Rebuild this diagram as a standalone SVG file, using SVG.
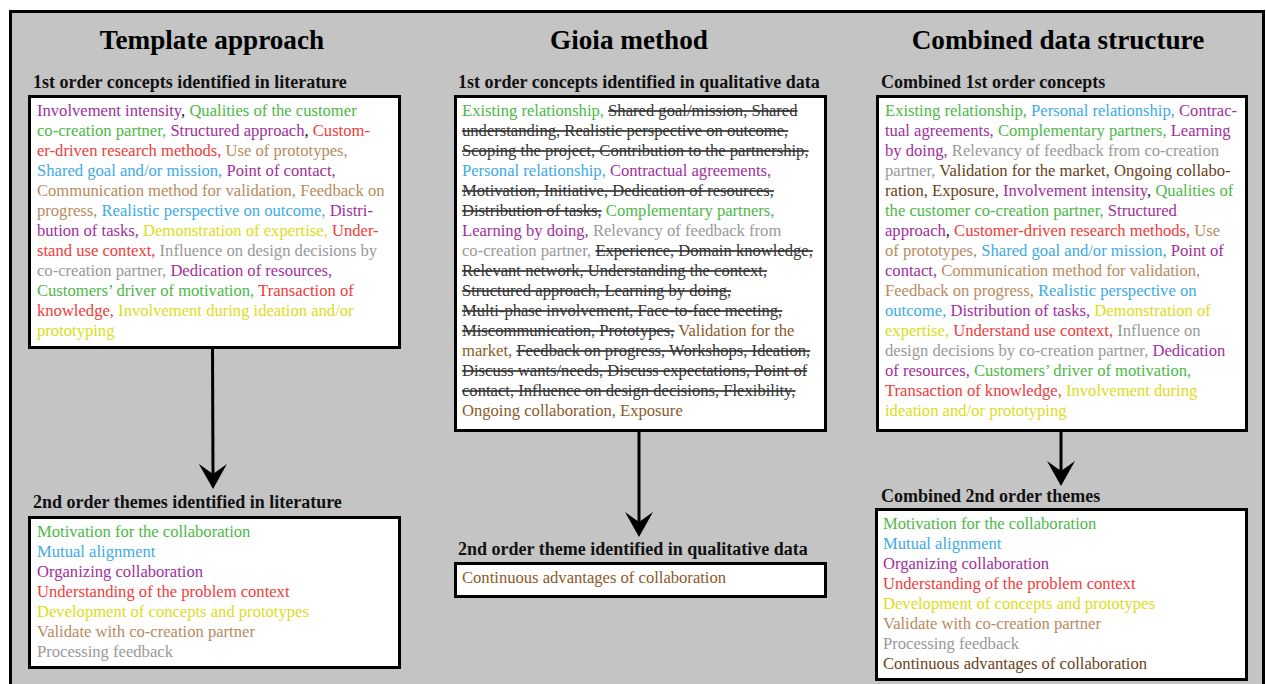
<svg xmlns="http://www.w3.org/2000/svg" width="1266" height="684" viewBox="0 0 1266 684">
<style>
text{font-family:"Liberation Serif","Times New Roman",serif}
.title{font-size:27.2px;font-weight:bold;fill:#000;text-anchor:middle}
.sub{font-size:18px;font-weight:bold;fill:#111}
.body{font-size:16.6px}
.box{fill:#fff;stroke:#000;stroke-width:3}
.k{fill:#111}
.pu{fill:#a0309b}
.gr{fill:#4db848}
.rd{fill:#f03b3b}
.tn{fill:#b98a5e}
.bl{fill:#3eaae6}
.ye{fill:#dcdc1a}
.gy{fill:#999}
.br{fill:#8a5a2a}
.db{fill:#6a4219}
.st{fill:#333;text-decoration:line-through}
.conn{stroke:#000;stroke-width:3;fill:none}
</style>
<defs>
<marker id="ah" viewBox="0 0 25 28" markerWidth="25" markerHeight="28" refX="12" refY="14" orient="auto" markerUnits="userSpaceOnUse">
<path d="M0,0 L10,14 L0,28 L25,14 Z" fill="#000"/>
</marker>
</defs>
<rect x="0" y="0" width="1266" height="684" fill="#fff"/>
<rect x="10.5" y="11.5" width="1253" height="700" fill="#c4c4c4" stroke="#000" stroke-width="3"/>

<g id="titles">
<text class="title" x="212" y="49">Template approach</text>
<text class="title" x="629" y="49">Gioia method</text>
<text class="title" x="1058" y="49">Combined data structure</text>
</g>

<g id="connectors">
<line class="conn" x1="212.5" y1="348" x2="213" y2="476" marker-end="url(#ah)"/>
<line class="conn" x1="639" y1="431" x2="639" y2="524" marker-end="url(#ah)"/>
<line class="conn" x1="1061" y1="431" x2="1061" y2="473" marker-end="url(#ah)"/>
</g>

<g id="template-1st">
<text class="sub" x="33" y="88">1st order concepts identified in literature</text>
<rect class="box" x="29.5" y="96.5" width="370" height="251"/>
<text class="body" x="37" y="116"><tspan class="pu">Involvement intensity</tspan><tspan class="k">, </tspan><tspan class="gr">Qualities of the customer</tspan></text>
<text class="body" x="37" y="136"><tspan class="gr">co-creation partner, </tspan><tspan class="pu">Structured approach</tspan><tspan class="k">, </tspan><tspan class="rd">Custom-</tspan></text>
<text class="body" x="37" y="156"><tspan class="rd">er-driven research methods, </tspan><tspan class="tn">Use of prototypes,</tspan></text>
<text class="body" x="37" y="176"><tspan class="bl">Shared goal and/or mission, </tspan><tspan class="pu">Point of contact,</tspan></text>
<text class="body" x="37" y="196"><tspan class="tn">Communication method for validation, Feedback on</tspan></text>
<text class="body" x="37" y="216"><tspan class="tn">progress, </tspan><tspan class="bl">Realistic perspective on outcome, </tspan><tspan class="pu">Distri-</tspan></text>
<text class="body" x="37" y="236"><tspan class="pu">bution of tasks, </tspan><tspan class="ye">Demonstration of expertise, </tspan><tspan class="rd">Under-</tspan></text>
<text class="body" x="37" y="256"><tspan class="rd">stand use context, </tspan><tspan class="gy">Influence on design decisions by</tspan></text>
<text class="body" x="37" y="276"><tspan class="gy">co-creation partner, </tspan><tspan class="pu">Dedication of resources,</tspan></text>
<text class="body" x="37" y="296"><tspan class="gr">Customers’ driver of motivation, </tspan><tspan class="rd">Transaction of</tspan></text>
<text class="body" x="37" y="316"><tspan class="rd">knowledge, </tspan><tspan class="ye">Involvement during ideation and/or</tspan></text>
<text class="body" x="37" y="336"><tspan class="ye">prototyping</tspan></text>
</g>

<g id="template-2nd">
<text class="sub" x="33" y="508">2nd order themes identified in literature</text>
<rect class="box" x="29.5" y="517.5" width="370" height="150"/>
<text class="body gr" x="37" y="537">Motivation for the collaboration</text>
<text class="body bl" x="37" y="557">Mutual alignment</text>
<text class="body pu" x="37" y="577">Organizing collaboration</text>
<text class="body rd" x="37" y="597">Understanding of the problem context</text>
<text class="body ye" x="37" y="617">Development of concepts and prototypes</text>
<text class="body tn" x="37" y="637">Validate with co-creation partner</text>
<text class="body gy" x="37" y="657">Processing feedback</text>
</g>

<g id="gioia-1st">
<text class="sub" x="458" y="88">1st order concepts identified in qualitative data</text>
<rect class="box" x="455.5" y="96.5" width="370" height="334"/>
<text class="body" x="462" y="116"><tspan class="gr">Existing relationship, </tspan><tspan class="st">Shared goal/mission, Shared</tspan></text>
<text class="body" x="462" y="136"><tspan class="st">understanding, Realistic perspective on outcome,</tspan></text>
<text class="body" x="462" y="156"><tspan class="st">Scoping the project, Contribution to the partnership,</tspan></text>
<text class="body" x="462" y="176"><tspan class="bl">Personal relationship, </tspan><tspan class="pu">Contractual agreements,</tspan></text>
<text class="body" x="462" y="196"><tspan class="st">Motivation, Initiative, Dedication of resources,</tspan></text>
<text class="body" x="462" y="216"><tspan class="st">Distribution of tasks,</tspan><tspan class="k"> </tspan><tspan class="gr">Complementary partners,</tspan></text>
<text class="body" x="462" y="236"><tspan class="pu">Learning by doing, </tspan><tspan class="gy">Relevancy of feedback from</tspan></text>
<text class="body" x="462" y="256"><tspan class="gy">co-creation partner, </tspan><tspan class="st">Experience, Domain knowledge,</tspan></text>
<text class="body" x="462" y="276"><tspan class="st">Relevant network, Understanding the context,</tspan></text>
<text class="body" x="462" y="296"><tspan class="st">Structured approach, Learning by doing,</tspan></text>
<text class="body" x="462" y="316"><tspan class="st">Multi-phase involvement, Face-to-face meeting,</tspan></text>
<text class="body" x="462" y="336"><tspan class="st">Miscommunication, Prototypes,</tspan><tspan class="k"> </tspan><tspan class="br">Validation for the</tspan></text>
<text class="body" x="462" y="356"><tspan class="br">market, </tspan><tspan class="st">Feedback on progress, Workshops, Ideation,</tspan></text>
<text class="body" x="462" y="376"><tspan class="st">Discuss wants/needs, Discuss expectations, Point of</tspan></text>
<text class="body" x="462" y="396"><tspan class="st">contact, Influence on design decisions, Flexibility,</tspan></text>
<text class="body" x="462" y="416"><tspan class="br">Ongoing collaboration, Exposure</tspan></text>
</g>

<g id="gioia-2nd">
<text class="sub" x="458" y="555">2nd order theme identified in qualitative data</text>
<rect class="box" x="455.5" y="563.5" width="370" height="33"/>
<text class="body br" x="462" y="583">Continuous advantages of collaboration</text>
</g>

<g id="combined-1st">
<text class="sub" x="881" y="88">Combined 1st order concepts</text>
<rect class="box" x="877.5" y="96.5" width="369" height="334"/>
<text class="body" x="885" y="116"><tspan class="gr">Existing relationship, </tspan><tspan class="bl">Personal relationship, </tspan><tspan class="pu">Contrac-</tspan></text>
<text class="body" x="885" y="136"><tspan class="pu">tual agreements, </tspan><tspan class="gr">Complementary partners, </tspan><tspan class="pu">Learning</tspan></text>
<text class="body" x="885" y="156"><tspan class="pu">by doing, </tspan><tspan class="gy">Relevancy of feedback from co-creation</tspan></text>
<text class="body" x="885" y="176"><tspan class="gy">partner, </tspan><tspan class="db">Validation for the market, Ongoing collabo-</tspan></text>
<text class="body" x="885" y="196"><tspan class="db">ration, Exposure, </tspan><tspan class="pu">Involvement intensity</tspan><tspan class="k">, </tspan><tspan class="gr">Qualities of</tspan></text>
<text class="body" x="885" y="216"><tspan class="gr">the customer co-creation partner, </tspan><tspan class="pu">Structured</tspan></text>
<text class="body" x="885" y="236"><tspan class="pu">approach</tspan><tspan class="k">, </tspan><tspan class="rd">Customer-driven research methods, </tspan><tspan class="tn">Use</tspan></text>
<text class="body" x="885" y="256"><tspan class="tn">of prototypes, </tspan><tspan class="bl">Shared goal and/or mission, </tspan><tspan class="pu">Point of</tspan></text>
<text class="body" x="885" y="276"><tspan class="pu">contact, </tspan><tspan class="tn">Communication method for validation,</tspan></text>
<text class="body" x="885" y="296"><tspan class="tn">Feedback on progress, </tspan><tspan class="bl">Realistic perspective on</tspan></text>
<text class="body" x="885" y="316"><tspan class="bl">outcome, </tspan><tspan class="pu">Distribution of tasks, </tspan><tspan class="ye">Demonstration of</tspan></text>
<text class="body" x="885" y="336"><tspan class="ye">expertise, </tspan><tspan class="rd">Understand use context, </tspan><tspan class="gy">Influence on</tspan></text>
<text class="body" x="885" y="356"><tspan class="gy">design decisions by co-creation partner, </tspan><tspan class="pu">Dedication</tspan></text>
<text class="body" x="885" y="376"><tspan class="pu">of resources, </tspan><tspan class="gr">Customers’ driver of motivation,</tspan></text>
<text class="body" x="885" y="396"><tspan class="rd">Transaction of knowledge, </tspan><tspan class="ye">Involvement during</tspan></text>
<text class="body" x="885" y="416"><tspan class="ye">ideation and/or prototyping</tspan></text>
</g>

<g id="combined-2nd">
<text class="sub" x="881" y="502">Combined 2nd order themes</text>
<rect class="box" x="876.5" y="509.5" width="370" height="170"/>
<text class="body gr" x="883" y="529">Motivation for the collaboration</text>
<text class="body bl" x="883" y="549">Mutual alignment</text>
<text class="body pu" x="883" y="569">Organizing collaboration</text>
<text class="body rd" x="883" y="589">Understanding of the problem context</text>
<text class="body ye" x="883" y="609">Development of concepts and prototypes</text>
<text class="body tn" x="883" y="629">Validate with co-creation partner</text>
<text class="body gy" x="883" y="649">Processing feedback</text>
<text class="body db" x="883" y="669">Continuous advantages of collaboration</text>
</g>
</svg>
